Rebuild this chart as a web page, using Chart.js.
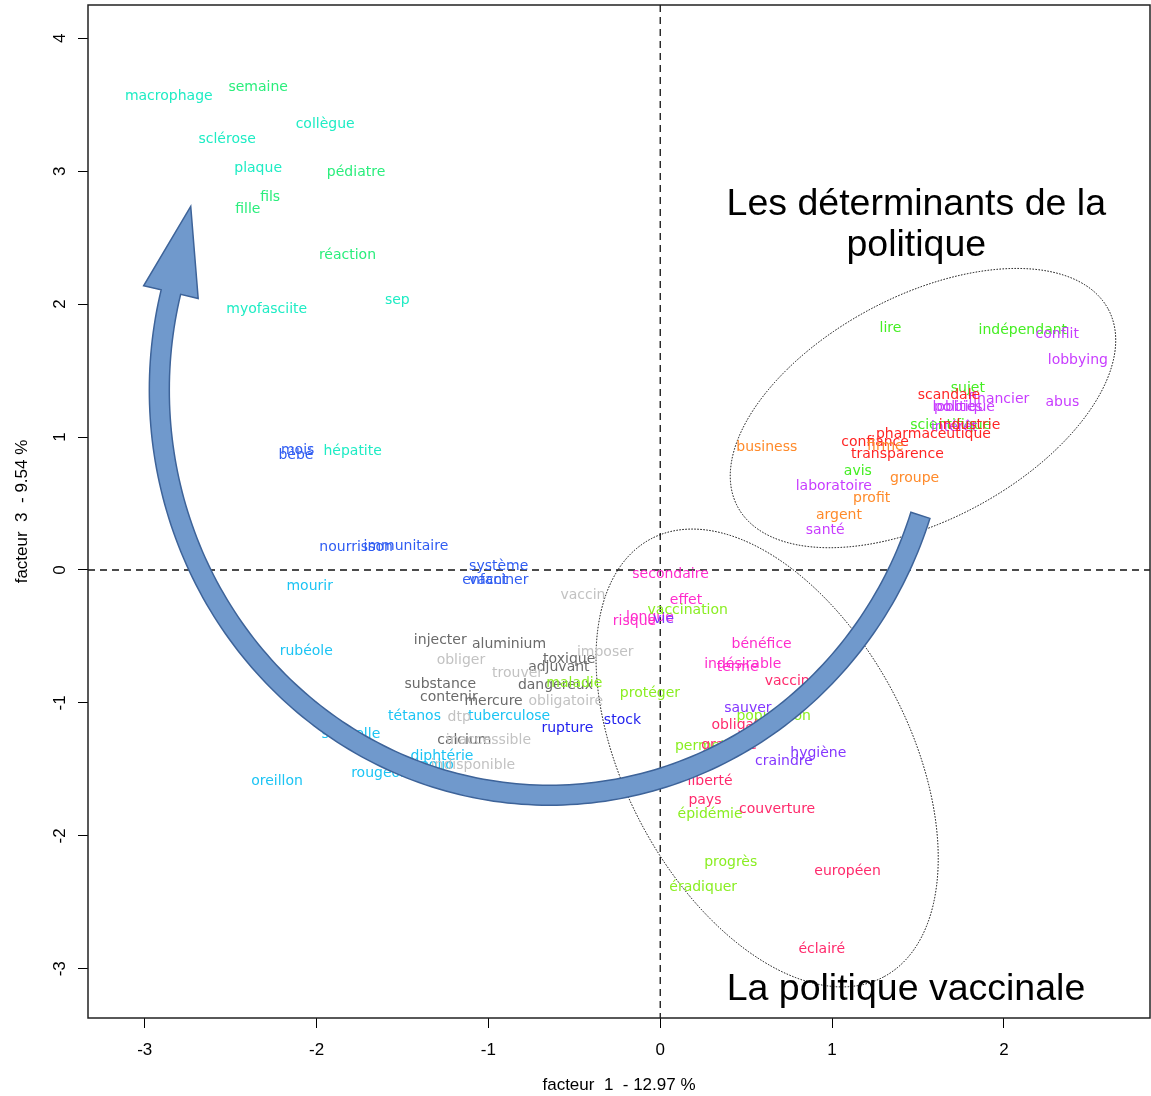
<!DOCTYPE html>
<html lang="fr">
<head>
<meta charset="utf-8">
<title>AFC - facteurs 1 et 3</title>
<script src="https://cdn.jsdelivr.net/npm/chart.js@4.4.1/dist/chart.umd.min.js"></script>
<style>
  html, body { margin: 0; padding: 0; background: #fff; }
  #wrap { position: relative; width: 1151px; height: 1096px; }
</style>
</head>
<body>
<div id="wrap"><canvas id="afc"></canvas></div>
<script>
// ===== DONNÉES : mots, coordonnées sur les facteurs 1 et 3, classe =====
const words = [
  'macrophage', 'collègue', 'sclérose', 'plaque', 'sep', 'myofasciite', 'hépatite',
  'semaine', 'pédiatre', 'fils', 'fille', 'réaction',
  'mois', 'bébé', 'nourrisson', 'immunitaire', 'système', 'enfant', 'vacciner',
  'mourir', 'rubéole', 'tétanos', 'tuberculose', 'séquelle', 'diphtérie', 'polio', 'rougeole', 'oreillon',
  'injecter', 'aluminium', 'toxique', 'adjuvant', 'substance', 'dangereux', 'contenir', 'mercure', 'calcium',
  'vaccin', 'obliger', 'imposer', 'trouver', 'obligatoire', 'dtp', 'inaccessible', 'indisponible',
  'rupture', 'stock',
  'secondaire', 'effet', 'risque', 'longue', 'bénéfice', 'indésirable', 'terme',
  'vie', 'sauver', 'craindre', 'hygiène',
  'vaccination', 'maladie', 'protéger', 'population', 'permettre', 'épidémie', 'progrès', 'éradiquer',
  'vaccinale', 'obligation', 'gratuité', 'liberté', 'pays', 'couverture', 'européen', 'éclairé',
  'lire', 'indépendant', 'sujet', 'scientifique', 'avis',
  'conflit', 'lobbying', 'financier', 'abus', 'politique', 'lobbies', 'intérêt', 'laboratoire', 'santé',
  'scandale', 'pharmaceutique', 'industrie', 'confiance', 'transparence',
  'business', 'firme', 'groupe', 'profit', 'argent'
];

const facteur1 = [
  -2.86, -1.95, -2.52, -2.34, -1.53, -2.29, -1.79,
  -2.34, -1.77, -2.27, -2.40, -1.82,
  -2.11, -2.12, -1.77, -1.48, -0.94, -1.02, -0.94,
  -2.04, -2.06, -1.43, -0.88, -1.80, -1.27, -1.30, -1.62, -2.23,
  -1.28, -0.88, -0.53, -0.59, -1.28, -0.61, -1.23, -0.97, -1.14,
  -0.45, -1.16, -0.32, -0.83, -0.55, -1.17, -1.00, -1.09,
  -0.54, -0.22,
  0.06, 0.15, -0.15, -0.06, 0.59, 0.48, 0.45,
  0.02, 0.51, 0.72, 0.92,
  0.16, -0.50, -0.06, 0.66, 0.29, 0.29, 0.41, 0.25,
  0.80, 0.50, 0.40, 0.29, 0.26, 0.68, 1.09, 0.94,
  1.34, 2.11, 1.79, 1.69, 1.15,
  2.31, 2.43, 1.97, 2.34, 1.77, 1.73, 1.71, 1.01, 0.96,
  1.68, 1.59, 1.80, 1.25, 1.38,
  0.62, 1.31, 1.48, 1.23, 1.04
];

const facteur3 = [
  3.56, 3.35, 3.24, 3.02, 2.03, 1.96, 0.89,
  3.63, 2.99, 2.80, 2.71, 2.37,
  0.90, 0.86, 0.17, 0.18, 0.03, -0.08, -0.075,
  -0.12, -0.61, -1.10, -1.10, -1.24, -1.40, -1.47, -1.53, -1.59,
  -0.53, -0.56, -0.67, -0.73, -0.86, -0.87, -0.96, -0.99, -1.28,
  -0.19, -0.68, -0.62, -0.78, -0.99, -1.11, -1.28, -1.47,
  -1.19, -1.13,
  -0.03, -0.23, -0.39, -0.36, -0.56, -0.71, -0.73,
  -0.37, -1.04, -1.44, -1.38,
  -0.30, -0.85, -0.93, -1.10, -1.33, -1.84, -2.20, -2.39,
  -0.84, -1.17, -1.32, -1.59, -1.73, -1.80, -2.27, -2.85,
  1.82, 1.80, 1.37, 1.09, 0.74,
  1.77, 1.58, 1.28, 1.26, 1.22, 1.22, 1.07, 0.63, 0.30,
  1.31, 1.02, 1.09, 0.96, 0.87,
  0.92, 0.93, 0.69, 0.54, 0.41
];

const classe = [
  0, 0, 0, 0, 0, 0, 0,
  1, 1, 1, 1, 1,
  2, 2, 2, 2, 2, 2, 2,
  3, 3, 3, 3, 3, 3, 3, 3, 3,
  4, 4, 4, 4, 4, 4, 4, 4, 4,
  5, 5, 5, 5, 5, 5, 5, 5,
  6, 6,
  7, 7, 7, 7, 7, 7, 7,
  8, 8, 8, 8,
  9, 9, 9, 9, 9, 9, 9, 9,
  10, 10, 10, 10, 10, 10, 10, 10,
  11, 11, 11, 11, 11,
  12, 12, 12, 12, 12, 12, 12, 12, 12,
  13, 13, 13, 13, 13,
  14, 14, 14, 14, 14
];

const xTicks = [-3, -2, -1, 0, 1, 2];
const yTicks = [-3, -2, -1, 0, 1, 2, 3, 4];

// couleur de chaque classe
const classColors = [
  '#1eecc4', '#2aee7c', '#2f5cf2', '#1cc4f4', '#6a6a6a',
  '#c2c2c2', '#2222ee', '#ff2ccc', '#8436ff', '#8aee22',
  '#ff2a6c', '#44ee22', '#c83cff', '#ff2424', '#ff8a2a'
];

// ===== DÉCOR : ellipses, flèche, titres de zones =====
const groupEllipses = [
  { cx: 1.529, cy: 1.218, rx: 210, ry: 112, angle: -28 },
  { cx: 0.622, cy: -1.414, rx: 248, ry: 142, angle: 62 }
];
const arrowArc = { cx: -0.645, cy: 1.353, rx: 2.27, ry: 3.047, from: 18, to: 194 };
const notes = [
  { text: 'Les déterminants de la', x: 1.49, y: 2.75 },
  { text: 'politique', x: 1.49, y: 2.44 },
  { text: 'La politique vaccinale', x: 1.43, y: -3.16 }
];

const axisFont = "'Liberation Sans Narrow', 'Liberation Sans', Arial, sans-serif";

// lignes pointillées à zéro + cadre + ellipses
const framePlugin = {
  id: 'frame',
  beforeDatasetsDraw(chart) {
    const { ctx, chartArea: a, scales: { x, y } } = chart;
    const x0 = x.getPixelForValue(0);
    const y0 = y.getPixelForValue(0);
    ctx.save();
    ctx.strokeStyle = '#111';
    ctx.lineWidth = 1.3;
    ctx.setLineDash([7, 5]);
    ctx.beginPath();
    ctx.moveTo(x0, a.top); ctx.lineTo(x0, a.bottom);
    ctx.moveTo(a.left, y0); ctx.lineTo(a.right, y0);
    ctx.stroke();
    ctx.setLineDash([]);
    ctx.lineWidth = 1.5;
    ctx.strokeStyle = '#222';
    ctx.strokeRect(a.left, a.top, a.right - a.left, a.bottom - a.top);

    ctx.lineWidth = 1;
    ctx.strokeStyle = '#000';
    ctx.setLineDash([1.5, 1.5]);
    groupEllipses.forEach(e => {
      ctx.beginPath();
      ctx.ellipse(x.getPixelForValue(e.cx), y.getPixelForValue(e.cy), e.rx, e.ry, e.angle * Math.PI / 180, 0, Math.PI * 2);
      ctx.stroke();
    });
    ctx.restore();
  }
};

// mots placés sur chaque point
const wordsPlugin = {
  id: 'words',
  afterDatasetsDraw(chart) {
    const { ctx } = chart;
    const meta = chart.getDatasetMeta(0);
    ctx.save();
    ctx.font = "14px 'DejaVu Sans', Verdana, sans-serif";
    ctx.textAlign = 'center';
    ctx.textBaseline = 'middle';
    meta.data.forEach((pt, i) => {
      ctx.fillStyle = classColors[classe[i]];
      ctx.fillText(words[i], pt.x, pt.y);
    });
    ctx.restore();
  }
};

// grande flèche courbe
const arrowPlugin = {
  id: 'arrow',
  afterDatasetsDraw(chart) {
    const { ctx, scales: { x, y } } = chart;
    const pts = [];
    for (let d = arrowArc.from; d <= arrowArc.to; d += 1) {
      const t = d * Math.PI / 180;
      pts.push([
        x.getPixelForValue(arrowArc.cx + arrowArc.rx * Math.cos(t)),
        y.getPixelForValue(arrowArc.cy - arrowArc.ry * Math.sin(t))
      ]);
    }
    const half = 10;
    const outer = [], inner = [];
    pts.forEach((p, i) => {
      const a = pts[Math.max(i - 1, 0)], b = pts[Math.min(i + 1, pts.length - 1)];
      let tx = b[0] - a[0], ty = b[1] - a[1];
      const len = Math.hypot(tx, ty);
      tx /= len; ty /= len;
      outer.push([p[0] - ty * half, p[1] + tx * half]);
      inner.push([p[0] + ty * half, p[1] - tx * half]);
    });
    const end = pts[pts.length - 1], prev = pts[pts.length - 2];
    let tx = end[0] - prev[0], ty = end[1] - prev[1];
    const len = Math.hypot(tx, ty);
    tx /= len; ty /= len;
    const headHalf = 28, headLen = 88;

    ctx.save();
    ctx.beginPath();
    ctx.moveTo(outer[0][0], outer[0][1]);
    outer.forEach(p => ctx.lineTo(p[0], p[1]));
    ctx.lineTo(end[0] - ty * headHalf, end[1] + tx * headHalf);
    ctx.lineTo(end[0] + tx * headLen, end[1] + ty * headLen);
    ctx.lineTo(end[0] + ty * headHalf, end[1] - tx * headHalf);
    for (let i = inner.length - 1; i >= 0; i--) ctx.lineTo(inner[i][0], inner[i][1]);
    ctx.closePath();
    ctx.fillStyle = '#7099cc';
    ctx.fill();
    ctx.lineWidth = 1.5;
    ctx.strokeStyle = '#3d6399';
    ctx.stroke();
    ctx.restore();
  }
};

// titres des deux zones
const notesPlugin = {
  id: 'notes',
  afterDatasetsDraw(chart) {
    const { ctx, scales: { x, y } } = chart;
    ctx.save();
    ctx.font = "37.5px 'Liberation Sans', Arial, sans-serif";
    ctx.fillStyle = '#000';
    ctx.textAlign = 'center';
    ctx.textBaseline = 'middle';
    notes.forEach(n => ctx.fillText(n.text, x.getPixelForValue(n.x), y.getPixelForValue(n.y)));
    ctx.restore();
  }
};

new Chart(document.getElementById('afc'), {
  type: 'scatter',
  data: {
    datasets: [{
      data: words.map((w, i) => ({ x: facteur1[i], y: facteur3[i] })),
      pointRadius: 0,
      pointHoverRadius: 0
    }]
  },
  options: {
    responsive: true,
    maintainAspectRatio: false,
    animation: false,
    events: [],
    layout: { padding: { top: 5, right: 1, left: 0, bottom: 0 } },
    plugins: { legend: { display: false }, tooltip: { enabled: false } },
    scales: {
      x: {
        type: 'linear',
        min: -3.33,
        max: 2.85,
        afterBuildTicks: s => { s.ticks = xTicks.map(v => ({ value: v })); },
        afterFit: s => { s.height = 78; s.paddingLeft = 0; s.paddingRight = 0; },
        border: { display: false },
        grid: { drawOnChartArea: false, drawTicks: true, tickLength: 10, tickColor: '#000', tickWidth: 1 },
        ticks: { color: '#000', padding: 12, font: { family: axisFont, size: 17 }, maxRotation: 0 },
        title: { display: true, text: 'facteur  1  - 12.97 %', color: '#000', font: { family: axisFont, size: 17 }, padding: { top: 0, bottom: 0 } }
      },
      y: {
        type: 'linear',
        min: -3.37,
        max: 4.25,
        afterBuildTicks: s => { s.ticks = yTicks.map(v => ({ value: v })); },
        afterFit: s => { s.width = 88; s.paddingTop = 0; s.paddingBottom = 0; },
        border: { display: false },
        grid: { drawOnChartArea: false, drawTicks: true, tickLength: 10, tickColor: '#000', tickWidth: 1 },
        ticks: { color: '#000', padding: 10, crossAlign: 'center', minRotation: 90, maxRotation: 90, font: { family: axisFont, size: 17 } },
        title: { display: true, text: 'facteur  3  - 9.54 %', color: '#000', font: { family: axisFont, size: 17 }, padding: { top: 12, bottom: 0 } }
      }
    }
  },
  plugins: [framePlugin, wordsPlugin, arrowPlugin, notesPlugin]
});
</script>
</body>
</html>
